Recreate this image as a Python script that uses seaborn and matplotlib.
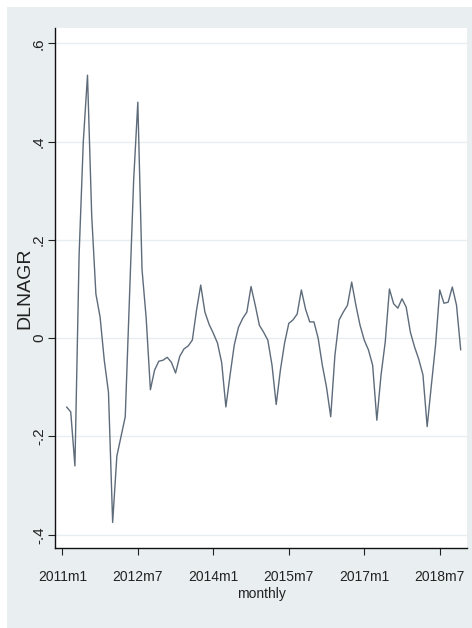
import matplotlib
matplotlib.use("Agg")
import pandas as pd
import matplotlib.pyplot as plt
import seaborn as sns

# month index: 0 = 2011m1, series starts 2011m2 (first difference)
month_idx = list(range(1, 96))
dlnagr = [
    -0.140, -0.150, -0.260, 0.170, 0.400, 0.535, 0.250, 0.090, 0.043, -0.045,
    -0.110, -0.375, -0.240, -0.200, -0.160, 0.080, 0.320, 0.480, 0.140, 0.040,
    -0.105, -0.065, -0.047, -0.045, -0.039, -0.049, -0.071, -0.037, -0.022, -0.016,
    -0.004, 0.057, 0.108, 0.053, 0.028, 0.010, -0.010, -0.050, -0.140, -0.075,
    -0.014, 0.022, 0.040, 0.053, 0.105, 0.067, 0.026, 0.012, -0.004, -0.055,
    -0.135, -0.065, -0.010, 0.030, 0.037, 0.049, 0.098, 0.059, 0.033, 0.033,
    0.000, -0.055, -0.100, -0.160, -0.035, 0.037, 0.053, 0.067, 0.114, 0.067,
    0.026, -0.004, -0.024, -0.055, -0.167, -0.075, -0.008, 0.100, 0.070, 0.061,
    0.080, 0.063, 0.012, -0.018, -0.043, -0.075, -0.180, -0.096, -0.014, 0.098,
    0.071, 0.073, 0.104, 0.067, -0.024,
]
xtick_pos = [0, 18, 36, 54, 72, 90]
xtick_labels = ["2011m1", "2012m7", "2014m1", "2015m7", "2017m1", "2018m7"]
ytick_vals = [-0.4, -0.2, 0.0, 0.2, 0.4, 0.6]
ytick_labels = ["-.4", "-.2", "0", ".2", ".4", ".6"]

df = pd.DataFrame({"monthly": month_idx, "DLNAGR": dlnagr})

sns.set_style("white")
plt.rcParams["font.family"] = ["Liberation Sans", "DejaVu Sans"]

W, H = 472, 628
fig = plt.figure(figsize=(W / 100, H / 100), dpi=100, facecolor="white")

# Stata-like graph region
bg = plt.Rectangle((7 / W, 0), 1 - 7 / W, (H - 7) / H, transform=fig.transFigure,
                   facecolor="#e9eff1", edgecolor="none", zorder=-10)
fig.patches.append(bg)

ax = fig.add_axes([55 / W, 1 - 548 / H, (467 - 55) / W, (548 - 28) / H])
ax.set_zorder(5)
ax.set_facecolor("white")

sns.lineplot(data=df, x="monthly", y="DLNAGR", ax=ax, color="#5d6b7a", linewidth=1.0)

ax.set_xlim(-1.75, 96.5)
ax.set_ylim(-0.427, 0.631)

ax.set_yticks(ytick_vals)
ax.set_yticklabels(ytick_labels, rotation=90, va="center", fontsize=11)
ax.set_xticks(xtick_pos)
ax.set_xticklabels(xtick_labels, fontsize=10)

for y in ytick_vals:
    ax.axhline(y, color="#e8edf0", linewidth=1.0, zorder=0)

ax.tick_params(axis="both", direction="out", length=5, width=0.8, color="#222222",
               labelcolor="#222222", left=True, bottom=True)
ax.tick_params(axis="x", pad=11)
ax.tick_params(axis="y", pad=1.5)

for side in ["top", "right"]:
    ax.spines[side].set_visible(False)
for side in ["left", "bottom"]:
    ax.spines[side].set_color("#111111")
    ax.spines[side].set_linewidth(1.0)

ax.set_xlabel("monthly", fontsize=10, color="#222222", labelpad=2)
ax.set_ylabel("DLNAGR", fontsize=14, color="#222222")
ax.yaxis.set_label_coords(-0.053, 0.5)

fig.savefig("out.png", dpi=100, facecolor=fig.get_facecolor())
